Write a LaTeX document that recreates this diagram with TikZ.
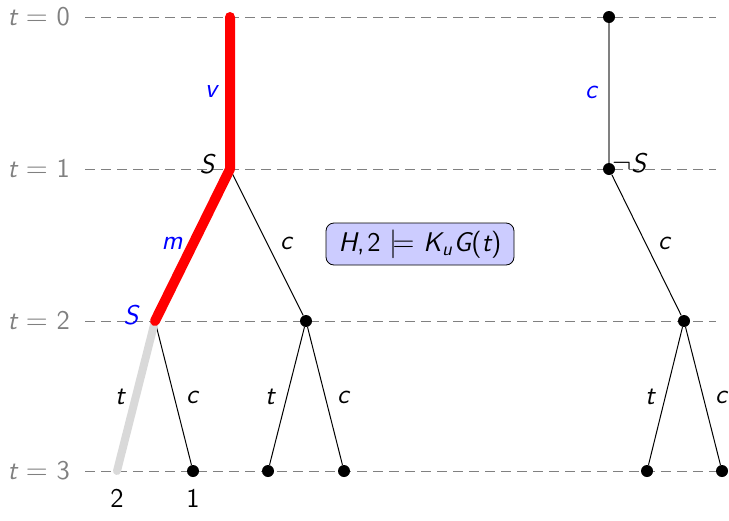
\documentclass[tikz,border=0pt]{standalone}
\usepackage{amssymb}
\begin{document}
\begin{tikzpicture}[x=0.5pt,y=-0.5pt,
  every node/.style={font=\fontsize{13.5}{16}\selectfont\sffamily},
  dot/.style={circle,fill=black,inner sep=0pt,minimum size=6pt},
  pt/.style={inner sep=0pt,minimum size=0pt},
  tline/.style={gray,dashed,dash pattern=on 5pt off 3pt,line width=0.5pt},
  tlab/.style={gray,anchor=east},
  edge/.style={black,line width=0.5pt},
  lab/.style={inner sep=0pt},
  blab/.style={inner sep=0pt,text=blue},
  redpath/.style={red,line width=5pt,line cap=round,line join=round},
  graypath/.style={gray!30,line width=4pt,line cap=round}]
\useasboundingbox (0,0) rectangle (729,520);
% time lines
\foreach \t/\y in {0/17,1/169,2/321,3/471}{
  \node[tlab] (lab\t) at (77,\y) {\itshape t\upshape~$=$~\t};
  \coordinate (ls\t) at (85,\y);
  \coordinate (le\t) at (716,\y);
  \draw[tline] (ls\t) -- (le\t);
}
% left tree
\node[pt] (a0) at (230,17) {};
\node[pt] (a1) at (230,169) {};
\node[pt] (b) at (155,321) {};
\node[dot] (c) at (306,321) {};
\node[pt] (l1) at (117,471) {};
\node[dot] (l2) at (193,471) {};
\node[dot] (l3) at (268,471) {};
\node[dot] (l4) at (344,471) {};
\draw[edge] (a1.center) -- (c);
\draw[edge] (b.center) -- (l2);
\draw[edge] (c) -- (l3);
\draw[edge] (c) -- (l4);
\draw[graypath] (b.center) -- (l1.center);
\draw[redpath] (a0.center) -- (a1.center) -- (b.center);
% right tree
\node[dot] (r0) at (609,17) {};
\node[dot] (r1) at (609,169) {};
\node[dot] (r2) at (684,321) {};
\node[dot] (r3) at (647,471) {};
\node[dot] (r4) at (722,471) {};
\draw[gray,line width=0.8pt] (r0) -- (r1);
\draw[edge] (r1) -- (r2);
\draw[edge] (r2) -- (r3);
\draw[edge] (r2) -- (r4);
% labels
\node[blab] (lv) at (211,92) {\itshape v};
\node[lab] (lS1) at (207,164) {\itshape S};
\node[blab] (lm) at (172,243) {\itshape m};
\node[lab] (lc1) at (286,243) {\itshape c};
\node[blab] (lS2) at (131,315) {\itshape S};
\node[lab] (lt1) at (120,397) {\itshape t};
\node[lab] (lc2) at (192,397) {\itshape c};
\node[lab] (lt2) at (270,397) {\itshape t};
\node[lab] (lc3) at (343,397) {\itshape c};
\node[lab] (n2) at (117,498) {2};
\node[lab] (n1) at (193,498) {1};
\node[blab] (rc) at (591,92) {\itshape c};
\node[lab] (rS) at (629,163) {$\neg$\itshape S};
\node[lab] (rc1) at (664,243) {\itshape c};
\node[lab] (rt) at (650,397) {\itshape t};
\node[lab] (rc2) at (721,397) {\itshape c};
% box
\node[draw=black,fill=blue!20,rounded corners=4pt,line width=0.4pt,minimum width=94pt,minimum height=21pt,inner sep=2pt] (box) at (420,244)
  {\itshape H\upshape,\kern1.5pt 2 $\models$ \itshape K\kern0.3pt\raisebox{-0.35ex}{\fontsize{9.5}{10}\selectfont u}\kern0.8pt G\upshape(\itshape t\upshape)};
\end{tikzpicture}
\end{document}
